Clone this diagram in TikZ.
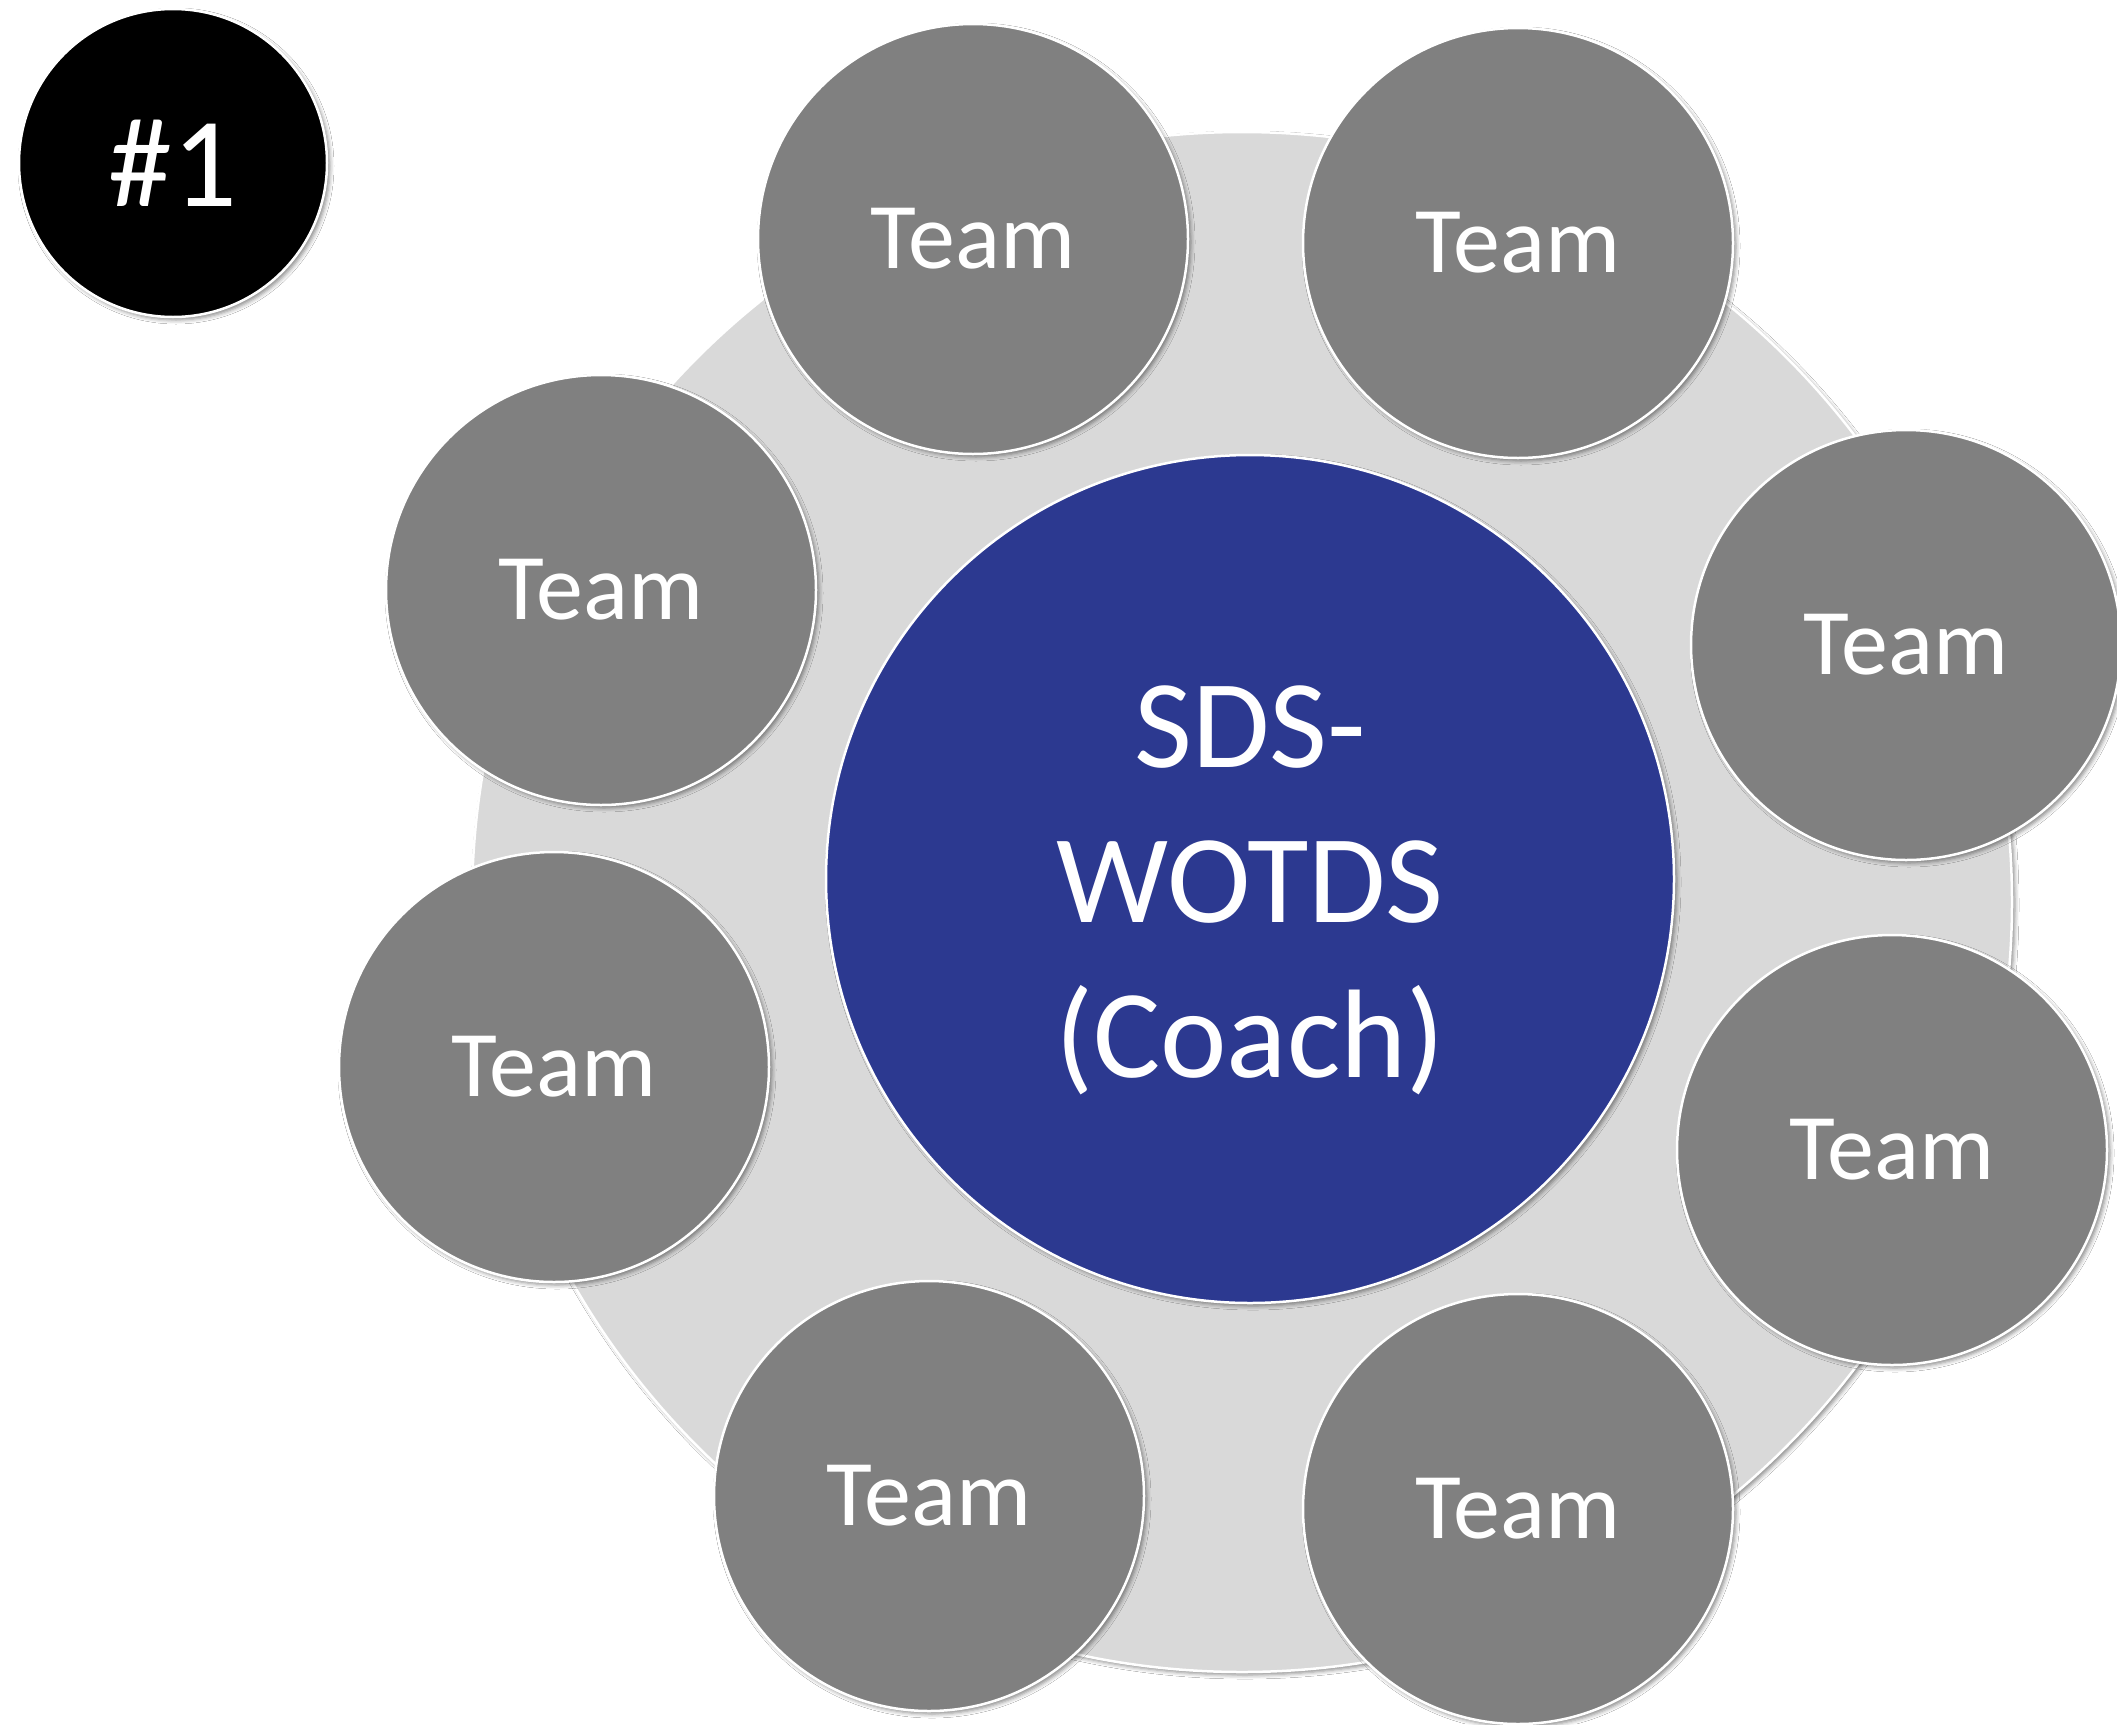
\documentclass[tikz,border=0pt]{standalone}
\usepackage{fontspec}
\setmainfont{Carlito}
\usetikzlibrary{shadows.blur}
\definecolor{teamgray}{RGB}{128,128,128}
\definecolor{ringgray}{RGB}{217,217,217}
\definecolor{coachblue}{RGB}{44,57,144}
\begin{document}
\begin{tikzpicture}[x=1pt,y=-1pt,
  disc/.style={circle, draw=white, line width=2.5pt, inner sep=0pt, text=white,
    blur shadow={shadow xshift=3pt, shadow yshift=-3pt, shadow blur radius=4pt, shadow opacity=45}},
  teamdisc/.style={disc, fill=teamgray, minimum size=430pt, font=\fontsize{94}{113}\selectfont},
  label/.style={text=white, inner sep=0pt, align=center}
]
\clip (0,0) rectangle (2117,1724);
\fill[white] (0,0) rectangle (2117,1724);
\node[disc, fill=ringgray, minimum size=1540pt] (ring) at (1242,902) {};
\node[disc, fill=coachblue, minimum size=848pt] (coach) at (1250,879) {};
\node[label, font=\fontsize{126}{155}\selectfont] (coachlabel) at (1250,890) {SDS-\\WOTDS\\(Coach)};
\node[teamdisc] (t1) at (973,239) {\raisebox{-4pt}{Team}};
\node[teamdisc] (t2) at (1518,243) {\raisebox{-4pt}{Team}};
\node[teamdisc] (t3) at (1906,645) {\raisebox{-4pt}{Team}};
\node[teamdisc] (t4) at (1892,1150) {\raisebox{-4pt}{Team}};
\node[teamdisc] (t5) at (1518,1509) {\raisebox{-4pt}{Team}};
\node[teamdisc] (t6) at (929,1496) {\raisebox{-4pt}{Team}};
\node[teamdisc] (t7) at (554,1067) {\raisebox{-4pt}{Team}};
\node[teamdisc] (t8) at (601,590) {\raisebox{-4pt}{Team}};
\node[disc, fill=black, minimum size=308pt, font=\fontsize{128}{150}\selectfont] (num) at (173,163) {\#1};
\end{tikzpicture}
\end{document}
